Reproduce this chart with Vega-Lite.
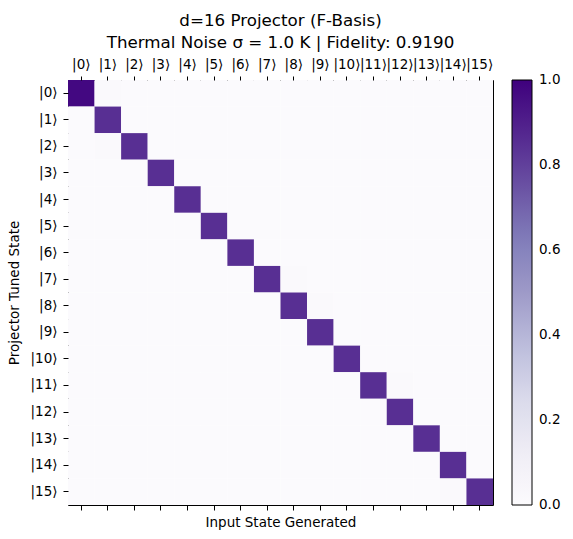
{
  "$schema": "https://vega.github.io/schema/vega-lite/v6.json",
  "width": 425,
  "height": 425,
  "autosize": {"type": "none"},
  "padding": {"left": 68, "top": 80, "right": 80, "bottom": 34},
  "background": "white",
  "title": {
    "text": ["d=16 Projector (F-Basis)", "Thermal Noise σ = 1.0 K | Fidelity: 0.9190"],
    "font": "DejaVu Sans",
    "fontSize": 16.7,
    "fontWeight": "normal",
    "color": "black",
    "anchor": "middle",
    "frame": "group",
    "lineHeight": 22,
    "offset": 5
  },
  "config": {
    "font": "DejaVu Sans",
    "view": {"stroke": "black", "strokeWidth": 1},
    "axis": {
      "domainColor": "black",
      "tickColor": "black",
      "labelColor": "black",
      "titleColor": "black",
      "labelFont": "DejaVu Sans",
      "titleFont": "DejaVu Sans",
      "labelFontSize": 13.5,
      "titleFontSize": 13.5,
      "titleFontWeight": "normal",
      "tickSize": 5,
      "grid": false
    }
  },
  "data": {
    "values": [
      {"x":0,"y":0,"v":0.975},{"x":1,"y":0,"v":0.015},{"x":2,"y":0,"v":0.005},{"x":3,"y":0,"v":0.005},{"x":4,"y":0,"v":0.005},{"x":5,"y":0,"v":0.005},{"x":6,"y":0,"v":0.005},{"x":7,"y":0,"v":0.005},{"x":8,"y":0,"v":0.005},{"x":9,"y":0,"v":0.005},{"x":10,"y":0,"v":0.005},{"x":11,"y":0,"v":0.005},{"x":12,"y":0,"v":0.005},{"x":13,"y":0,"v":0.005},{"x":14,"y":0,"v":0.005},{"x":15,"y":0,"v":0.005},
      {"x":0,"y":1,"v":0.005},{"x":1,"y":1,"v":0.85},{"x":2,"y":1,"v":0.005},{"x":3,"y":1,"v":0.005},{"x":4,"y":1,"v":0.005},{"x":5,"y":1,"v":0.005},{"x":6,"y":1,"v":0.005},{"x":7,"y":1,"v":0.005},{"x":8,"y":1,"v":0.005},{"x":9,"y":1,"v":0.005},{"x":10,"y":1,"v":0.005},{"x":11,"y":1,"v":0.005},{"x":12,"y":1,"v":0.005},{"x":13,"y":1,"v":0.005},{"x":14,"y":1,"v":0.005},{"x":15,"y":1,"v":0.005},
      {"x":0,"y":2,"v":0.005},{"x":1,"y":2,"v":0.015},{"x":2,"y":2,"v":0.85},{"x":3,"y":2,"v":0.005},{"x":4,"y":2,"v":0.005},{"x":5,"y":2,"v":0.005},{"x":6,"y":2,"v":0.005},{"x":7,"y":2,"v":0.005},{"x":8,"y":2,"v":0.005},{"x":9,"y":2,"v":0.005},{"x":10,"y":2,"v":0.005},{"x":11,"y":2,"v":0.005},{"x":12,"y":2,"v":0.005},{"x":13,"y":2,"v":0.005},{"x":14,"y":2,"v":0.005},{"x":15,"y":2,"v":0.005},
      {"x":0,"y":3,"v":0.005},{"x":1,"y":3,"v":0.005},{"x":2,"y":3,"v":0.005},{"x":3,"y":3,"v":0.85},{"x":4,"y":3,"v":0.005},{"x":5,"y":3,"v":0.005},{"x":6,"y":3,"v":0.005},{"x":7,"y":3,"v":0.005},{"x":8,"y":3,"v":0.005},{"x":9,"y":3,"v":0.005},{"x":10,"y":3,"v":0.005},{"x":11,"y":3,"v":0.005},{"x":12,"y":3,"v":0.005},{"x":13,"y":3,"v":0.005},{"x":14,"y":3,"v":0.005},{"x":15,"y":3,"v":0.005},
      {"x":0,"y":4,"v":0.005},{"x":1,"y":4,"v":0.005},{"x":2,"y":4,"v":0.005},{"x":3,"y":4,"v":0.005},{"x":4,"y":4,"v":0.85},{"x":5,"y":4,"v":0.005},{"x":6,"y":4,"v":0.005},{"x":7,"y":4,"v":0.005},{"x":8,"y":4,"v":0.005},{"x":9,"y":4,"v":0.005},{"x":10,"y":4,"v":0.005},{"x":11,"y":4,"v":0.005},{"x":12,"y":4,"v":0.005},{"x":13,"y":4,"v":0.005},{"x":14,"y":4,"v":0.005},{"x":15,"y":4,"v":0.005},
      {"x":0,"y":5,"v":0.005},{"x":1,"y":5,"v":0.005},{"x":2,"y":5,"v":0.005},{"x":3,"y":5,"v":0.005},{"x":4,"y":5,"v":0.005},{"x":5,"y":5,"v":0.85},{"x":6,"y":5,"v":0.005},{"x":7,"y":5,"v":0.005},{"x":8,"y":5,"v":0.005},{"x":9,"y":5,"v":0.005},{"x":10,"y":5,"v":0.005},{"x":11,"y":5,"v":0.005},{"x":12,"y":5,"v":0.005},{"x":13,"y":5,"v":0.005},{"x":14,"y":5,"v":0.005},{"x":15,"y":5,"v":0.005},
      {"x":0,"y":6,"v":0.005},{"x":1,"y":6,"v":0.005},{"x":2,"y":6,"v":0.005},{"x":3,"y":6,"v":0.005},{"x":4,"y":6,"v":0.005},{"x":5,"y":6,"v":0.005},{"x":6,"y":6,"v":0.85},{"x":7,"y":6,"v":0.005},{"x":8,"y":6,"v":0.005},{"x":9,"y":6,"v":0.005},{"x":10,"y":6,"v":0.005},{"x":11,"y":6,"v":0.005},{"x":12,"y":6,"v":0.005},{"x":13,"y":6,"v":0.005},{"x":14,"y":6,"v":0.005},{"x":15,"y":6,"v":0.005},
      {"x":0,"y":7,"v":0.005},{"x":1,"y":7,"v":0.005},{"x":2,"y":7,"v":0.005},{"x":3,"y":7,"v":0.005},{"x":4,"y":7,"v":0.005},{"x":5,"y":7,"v":0.005},{"x":6,"y":7,"v":0.005},{"x":7,"y":7,"v":0.85},{"x":8,"y":7,"v":0.015},{"x":9,"y":7,"v":0.005},{"x":10,"y":7,"v":0.005},{"x":11,"y":7,"v":0.005},{"x":12,"y":7,"v":0.005},{"x":13,"y":7,"v":0.005},{"x":14,"y":7,"v":0.005},{"x":15,"y":7,"v":0.005},
      {"x":0,"y":8,"v":0.005},{"x":1,"y":8,"v":0.005},{"x":2,"y":8,"v":0.005},{"x":3,"y":8,"v":0.005},{"x":4,"y":8,"v":0.005},{"x":5,"y":8,"v":0.005},{"x":6,"y":8,"v":0.005},{"x":7,"y":8,"v":0.005},{"x":8,"y":8,"v":0.85},{"x":9,"y":8,"v":0.015},{"x":10,"y":8,"v":0.005},{"x":11,"y":8,"v":0.005},{"x":12,"y":8,"v":0.005},{"x":13,"y":8,"v":0.005},{"x":14,"y":8,"v":0.005},{"x":15,"y":8,"v":0.005},
      {"x":0,"y":9,"v":0.005},{"x":1,"y":9,"v":0.005},{"x":2,"y":9,"v":0.005},{"x":3,"y":9,"v":0.005},{"x":4,"y":9,"v":0.005},{"x":5,"y":9,"v":0.005},{"x":6,"y":9,"v":0.005},{"x":7,"y":9,"v":0.005},{"x":8,"y":9,"v":0.005},{"x":9,"y":9,"v":0.85},{"x":10,"y":9,"v":0.005},{"x":11,"y":9,"v":0.005},{"x":12,"y":9,"v":0.005},{"x":13,"y":9,"v":0.005},{"x":14,"y":9,"v":0.005},{"x":15,"y":9,"v":0.005},
      {"x":0,"y":10,"v":0.005},{"x":1,"y":10,"v":0.005},{"x":2,"y":10,"v":0.005},{"x":3,"y":10,"v":0.005},{"x":4,"y":10,"v":0.005},{"x":5,"y":10,"v":0.005},{"x":6,"y":10,"v":0.005},{"x":7,"y":10,"v":0.005},{"x":8,"y":10,"v":0.005},{"x":9,"y":10,"v":0.005},{"x":10,"y":10,"v":0.85},{"x":11,"y":10,"v":0.005},{"x":12,"y":10,"v":0.005},{"x":13,"y":10,"v":0.005},{"x":14,"y":10,"v":0.005},{"x":15,"y":10,"v":0.005},
      {"x":0,"y":11,"v":0.005},{"x":1,"y":11,"v":0.005},{"x":2,"y":11,"v":0.005},{"x":3,"y":11,"v":0.005},{"x":4,"y":11,"v":0.005},{"x":5,"y":11,"v":0.005},{"x":6,"y":11,"v":0.005},{"x":7,"y":11,"v":0.005},{"x":8,"y":11,"v":0.005},{"x":9,"y":11,"v":0.005},{"x":10,"y":11,"v":0.005},{"x":11,"y":11,"v":0.85},{"x":12,"y":11,"v":0.015},{"x":13,"y":11,"v":0.005},{"x":14,"y":11,"v":0.005},{"x":15,"y":11,"v":0.005},
      {"x":0,"y":12,"v":0.005},{"x":1,"y":12,"v":0.005},{"x":2,"y":12,"v":0.005},{"x":3,"y":12,"v":0.005},{"x":4,"y":12,"v":0.005},{"x":5,"y":12,"v":0.005},{"x":6,"y":12,"v":0.005},{"x":7,"y":12,"v":0.005},{"x":8,"y":12,"v":0.005},{"x":9,"y":12,"v":0.005},{"x":10,"y":12,"v":0.005},{"x":11,"y":12,"v":0.005},{"x":12,"y":12,"v":0.85},{"x":13,"y":12,"v":0.005},{"x":14,"y":12,"v":0.005},{"x":15,"y":12,"v":0.005},
      {"x":0,"y":13,"v":0.005},{"x":1,"y":13,"v":0.005},{"x":2,"y":13,"v":0.005},{"x":3,"y":13,"v":0.005},{"x":4,"y":13,"v":0.005},{"x":5,"y":13,"v":0.005},{"x":6,"y":13,"v":0.005},{"x":7,"y":13,"v":0.005},{"x":8,"y":13,"v":0.005},{"x":9,"y":13,"v":0.005},{"x":10,"y":13,"v":0.005},{"x":11,"y":13,"v":0.005},{"x":12,"y":13,"v":0.005},{"x":13,"y":13,"v":0.85},{"x":14,"y":13,"v":0.005},{"x":15,"y":13,"v":0.005},
      {"x":0,"y":14,"v":0.005},{"x":1,"y":14,"v":0.005},{"x":2,"y":14,"v":0.005},{"x":3,"y":14,"v":0.005},{"x":4,"y":14,"v":0.005},{"x":5,"y":14,"v":0.005},{"x":6,"y":14,"v":0.005},{"x":7,"y":14,"v":0.005},{"x":8,"y":14,"v":0.005},{"x":9,"y":14,"v":0.005},{"x":10,"y":14,"v":0.005},{"x":11,"y":14,"v":0.005},{"x":12,"y":14,"v":0.005},{"x":13,"y":14,"v":0.005},{"x":14,"y":14,"v":0.85},{"x":15,"y":14,"v":0.005},
      {"x":0,"y":15,"v":0.005},{"x":1,"y":15,"v":0.005},{"x":2,"y":15,"v":0.005},{"x":3,"y":15,"v":0.005},{"x":4,"y":15,"v":0.005},{"x":5,"y":15,"v":0.005},{"x":6,"y":15,"v":0.005},{"x":7,"y":15,"v":0.005},{"x":8,"y":15,"v":0.005},{"x":9,"y":15,"v":0.005},{"x":10,"y":15,"v":0.005},{"x":11,"y":15,"v":0.005},{"x":12,"y":15,"v":0.005},{"x":13,"y":15,"v":0.005},{"x":14,"y":15,"v":0.015},{"x":15,"y":15,"v":0.85}
    ]
  },
  "resolve": {"axis": {"x": "independent"}},
  "layer": [
    {
      "mark": {"type": "rect"},
      "encoding": {
        "x": {
          "field": "x", "type": "ordinal",
          "scale": {"paddingInner": 0, "paddingOuter": 0},
          "axis": {"orient": "top", "title": null, "labelAngle": 0, "tickSize": 4, "labelPadding": 5, "labelExpr": "'|' + datum.label + '⟩'", "domain": false}
        },
        "y": {
          "field": "y", "type": "ordinal",
          "scale": {"paddingInner": 0, "paddingOuter": 0},
          "axis": {"title": "Projector Tuned State", "labelPadding": 6, "titlePadding": 9, "labelExpr": "'|' + datum.label + '⟩'", "domain": false}
        },
        "color": {
          "field": "v", "type": "quantitative",
          "scale": {
            "type": "linear",
            "domain": [0, 0.125, 0.25, 0.375, 0.5, 0.625, 0.75, 0.875, 1],
            "range": ["#fcfbfd", "#efedf5", "#dadaeb", "#bcbddc", "#9e9ac8", "#807dba", "#6a51a3", "#54278f", "#3f007d"],
            "interpolate": "rgb"
          },
          "legend": {
            "title": null,
            "type": "gradient",
            "gradientLength": 425,
            "gradientThickness": 20,
            "gradientStrokeColor": "black",
            "gradientStrokeWidth": 1,
            "values": [0, 0.2, 0.4, 0.6, 0.8, 1.0],
            "format": ".1f",
            "labelFontSize": 13.5,
            "labelFont": "DejaVu Sans",
            "labelColor": "black",
            "labelOffset": 7,
            "offset": 19,
            "direction": "vertical",
            "encode": {"labels": {"update": {"baseline": {"value": "middle"}}}}
          }
        }
      }
    },
    {
      "mark": {"type": "rect", "opacity": 0},
      "encoding": {
        "x": {
          "field": "x", "type": "ordinal",
          "axis": {"orient": "bottom", "title": "Input State Generated", "labels": false, "titlePadding": 5, "domain": false}
        },
        "y": {"field": "y", "type": "ordinal"}
      }
    }
  ]
}
